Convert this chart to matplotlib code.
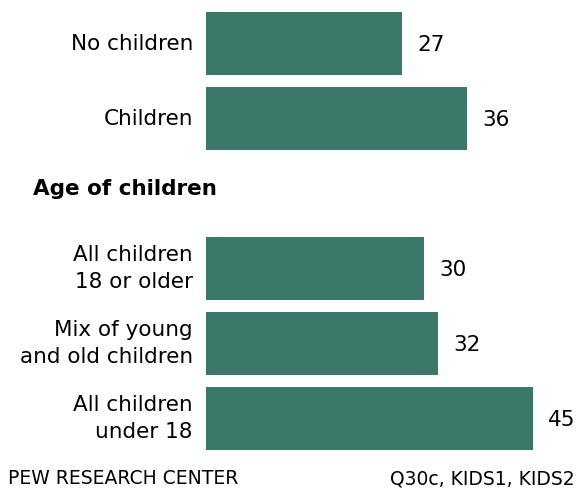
import matplotlib
matplotlib.use("Agg")
import matplotlib.pyplot as plt

plt.rcParams["font.family"] = ["DejaVu Sans"]

labels = ["No children", "Children",
          "All children\n18 or older", "Mix of young\nand old children", "All children\nunder 18"]
values = [27, 36, 30, 32, 45]
slots = [0, 1, 3, 4, 5]
header = "Age of children"
source_left = "PEW RESEARCH CENTER"
source_right = "Q30c, KIDS1, KIDS2"

bar_color = "#3b7869"

fig = plt.figure(figsize=(5.78, 4.91), dpi=100)
ax = fig.add_axes([206 / 578, 0, 372 / 578, 1])
ax.set_xlim(0, 372 / 7.26)
ax.set_ylim((491 - 43.5) / 75, -43.5 / 75)
ax.axis("off")

ax.barh(slots, values, height=0.84, color=bar_color)

for s, v, lab in zip(slots, values, labels):
    ax.annotate(lab, xy=(0, s), xytext=(-9.4, 0), textcoords="offset points",
                ha="right", va="center", fontsize=15.5, linespacing=1.4,
                annotation_clip=False)
    ax.annotate(str(v), xy=(v, s), xytext=(11, -1), textcoords="offset points",
                ha="left", va="center", fontsize=15.5, annotation_clip=False)

fig.text(33 / 578, 1 - 189 / 491, header, ha="left", va="center",
         fontsize=15.5, fontweight="bold")
fig.text(8 / 578, 1 - 479 / 491, source_left, ha="left", va="center", fontsize=13.5)
fig.text(575 / 578, 1 - 479 / 491, source_right, ha="right", va="center", fontsize=13.5)

fig.savefig("out.png", dpi=100)
